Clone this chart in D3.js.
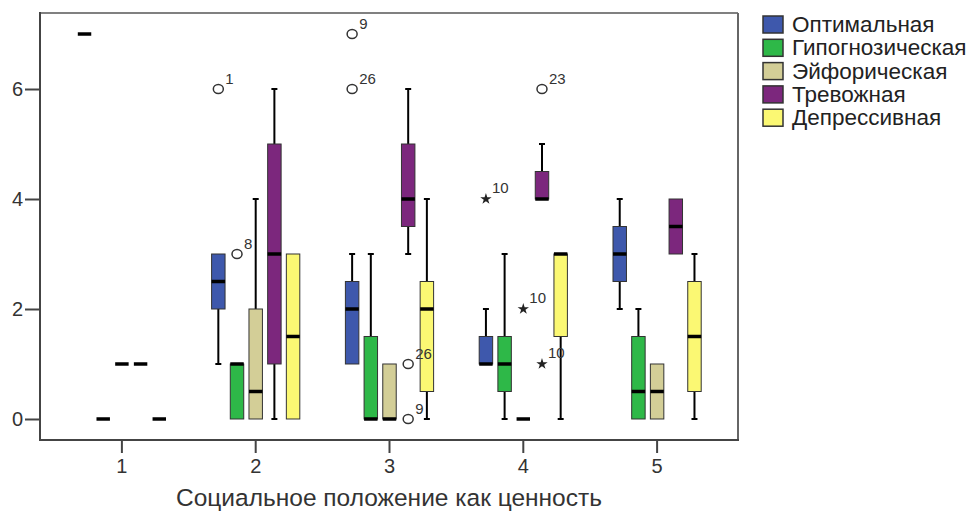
<!DOCTYPE html>
<html>
<head>
<meta charset="utf-8">
<script src="https://cdn.jsdelivr.net/npm/d3@7.9.0/dist/d3.min.js"></script>
<style>
  body { margin: 0; background: #fff; }
  svg { display: block; font-family: "Liberation Sans", Arial, sans-serif; }
</style>
</head>
<body>
<svg id="chart" width="973" height="513"></svg>
<script>
// categories on the x axis
const categories = ["1", "2", "3", "4", "5"];
const seriesNames = ["Оптимальная", "Гипогнозическая", "Эйфорическая", "Тревожная", "Депрессивная"];
const seriesColors = ["#3E58AC", "#2EB848", "#D3CE97", "#7C277D", "#FBF873"];
const yTicks = [0, 2, 4, 6];

// box stats per category: [min, q1, median, q3, max]
const optimal    = [[7, 7, 7, 7, 7], [1, 2, 2.5, 3, 3], [1, 1, 2, 2.5, 3], [1, 1, 1, 1.5, 2], [2, 2.5, 3, 3.5, 4]];
const hypognosic = [[0, 0, 0, 0, 0], [0, 0, 1, 1, 1], [0, 0, 0, 1.5, 3], [0, 0.5, 1, 1.5, 3], [0, 0, 0.5, 1.5, 2]];
const euphoric   = [[1, 1, 1, 1, 1], [0, 0, 0.5, 2, 4], [0, 0, 0, 1, 1], [0, 0, 0, 0, 0], [0, 0, 0.5, 1, 1]];
const anxious    = [[1, 1, 1, 1, 1], [0, 1, 3, 5, 6], [3, 3.5, 4, 5, 6], [4, 4, 4, 4.5, 5], [3, 3, 3.5, 4, 4]];
const depressive = [[0, 0, 0, 0, 0], [0, 0, 1.5, 3, 3], [0, 0.5, 2, 2.5, 4], [0, 1.5, 3, 3, 3], [0, 0.5, 1.5, 2.5, 3]];
const seriesStats = [optimal, hypognosic, euphoric, anxious, depressive];

// outliers: [category, series index, value, case label, kind]
const outliers = [
  ["2", 0, 6, "1", "o"],
  ["2", 1, 3, "8", "o"],
  ["3", 0, 7, "9", "o"],
  ["3", 0, 6, "26", "o"],
  ["3", 3, 1, "26", "o"],
  ["3", 3, 0, "9", "o"],
  ["4", 0, 4, "10", "*"],
  ["4", 2, 2, "10", "*"],
  ["4", 3, 6, "23", "o"],
  ["4", 3, 1, "10", "*"]
];

const svg = d3.select("#chart");
const plot = { left: 40, top: 13, right: 738, bottom: 440 };

const x0 = d3.scaleBand().domain(categories).range([55, 724]).paddingInner(0);
const x1 = d3.scaleBand().domain(d3.range(seriesNames.length))
  .range([0, x0.bandwidth()]).paddingInner(0.28).paddingOuter(1.22);
const y = d3.scaleLinear().domain([-0.382, 7.382]).range([plot.bottom, plot.top]);

const cx = (cat, s) => x0(cat) + x1(s) + x1.bandwidth() / 2;

// frame
svg.append("line").attr("x1", plot.left).attr("x2", plot.right).attr("y1", plot.top).attr("y2", plot.top)
  .attr("stroke", "#808080").attr("stroke-width", 2);
svg.append("line").attr("x1", plot.right).attr("x2", plot.right).attr("y1", plot.top).attr("y2", plot.bottom)
  .attr("stroke", "#666").attr("stroke-width", 2);

// axes
const yAxis = svg.append("g").attr("transform", `translate(${plot.left},0)`)
  .call(d3.axisLeft(y).tickValues(yTicks).tickSize(15).tickPadding(2));
const xAxis = svg.append("g").attr("transform", `translate(0,${plot.bottom})`)
  .call(d3.axisBottom(x0).tickSize(13).tickPadding(6));
[yAxis, xAxis].forEach(g => {
  g.select(".domain").remove();
  g.selectAll(".tick line").attr("stroke", "#444").attr("stroke-width", 2);
  g.selectAll(".tick text").attr("font-size", 20).attr("fill", "#333")
    .attr("font-family", "Liberation Sans, Arial, sans-serif");
});
svg.append("line").attr("x1", plot.left).attr("x2", plot.left).attr("y1", plot.top - 1).attr("y2", plot.bottom + 1)
  .attr("stroke", "#444").attr("stroke-width", 2);
svg.append("line").attr("x1", plot.left).attr("x2", plot.right + 1).attr("y1", plot.bottom).attr("y2", plot.bottom)
  .attr("stroke", "#444").attr("stroke-width", 2);

// x title
svg.append("text").attr("x", 389).attr("y", 506)
  .attr("text-anchor", "middle").attr("font-size", 24.5).attr("fill", "#333")
  .text("Социальное положение как ценность");

// boxes
const bw = x1.bandwidth();
seriesStats.forEach((stats, s) => {
  const g = svg.append("g");
  stats.forEach((d, i) => {
    const cat = categories[i];
    const c = cx(cat, s);
    const [mn, q1, md, q3, mx] = d;
    // whiskers
    if (mx > q3) {
      g.append("line").attr("x1", c).attr("x2", c).attr("y1", y(q3)).attr("y2", y(mx))
        .attr("stroke", "#000").attr("stroke-width", 2);
      g.append("line").attr("x1", c - 3).attr("x2", c + 3).attr("y1", y(mx)).attr("y2", y(mx))
        .attr("stroke", "#000").attr("stroke-width", 2);
    }
    if (mn < q1) {
      g.append("line").attr("x1", c).attr("x2", c).attr("y1", y(q1)).attr("y2", y(mn))
        .attr("stroke", "#000").attr("stroke-width", 2);
      g.append("line").attr("x1", c - 3).attr("x2", c + 3).attr("y1", y(mn)).attr("y2", y(mn))
        .attr("stroke", "#000").attr("stroke-width", 2);
    }
    if (q3 > q1) {
      g.append("rect").attr("x", c - bw / 2).attr("y", y(q3))
        .attr("width", bw).attr("height", y(q1) - y(q3))
        .attr("fill", seriesColors[s]).attr("stroke", "#333").attr("stroke-width", 1);
    }
    g.append("line").attr("x1", c - bw / 2).attr("x2", c + bw / 2).attr("y1", y(md)).attr("y2", y(md))
      .attr("stroke", "#000").attr("stroke-width", 3.5);
  });
});

// outliers
const star = d3.symbol().type(d3.symbolStar).size(40);
outliers.forEach(([cat, s, v, lab, kind]) => {
  const c = cx(cat, s), yy = y(v);
  if (kind === "o") {
    svg.append("ellipse").attr("cx", c).attr("cy", yy).attr("rx", 5).attr("ry", 4.5)
      .attr("fill", "none").attr("stroke", "#333").attr("stroke-width", 1.5);
    svg.append("text").attr("x", c + 7).attr("y", yy - 5).attr("font-size", 15).attr("fill", "#333").text(lab);
  } else {
    svg.append("path").attr("d", star).attr("transform", `translate(${c},${yy})`).attr("fill", "#222");
    svg.append("text").attr("x", c + 6).attr("y", yy - 6).attr("font-size", 15).attr("fill", "#333").text(lab);
  }
});

// legend
const legend = svg.append("g").attr("transform", "translate(763,16)");
seriesNames.forEach((name, i) => {
  const row = legend.append("g").attr("transform", `translate(0,${i * 23.3})`);
  row.append("rect").attr("width", 20).attr("height", 17)
    .attr("fill", seriesColors[i]).attr("stroke", "#333").attr("stroke-width", 1.5);
  row.append("text").attr("x", 29).attr("y", 16).attr("font-size", 22.5).attr("fill", "#222").text(name);
});
</script>
</body>
</html>
